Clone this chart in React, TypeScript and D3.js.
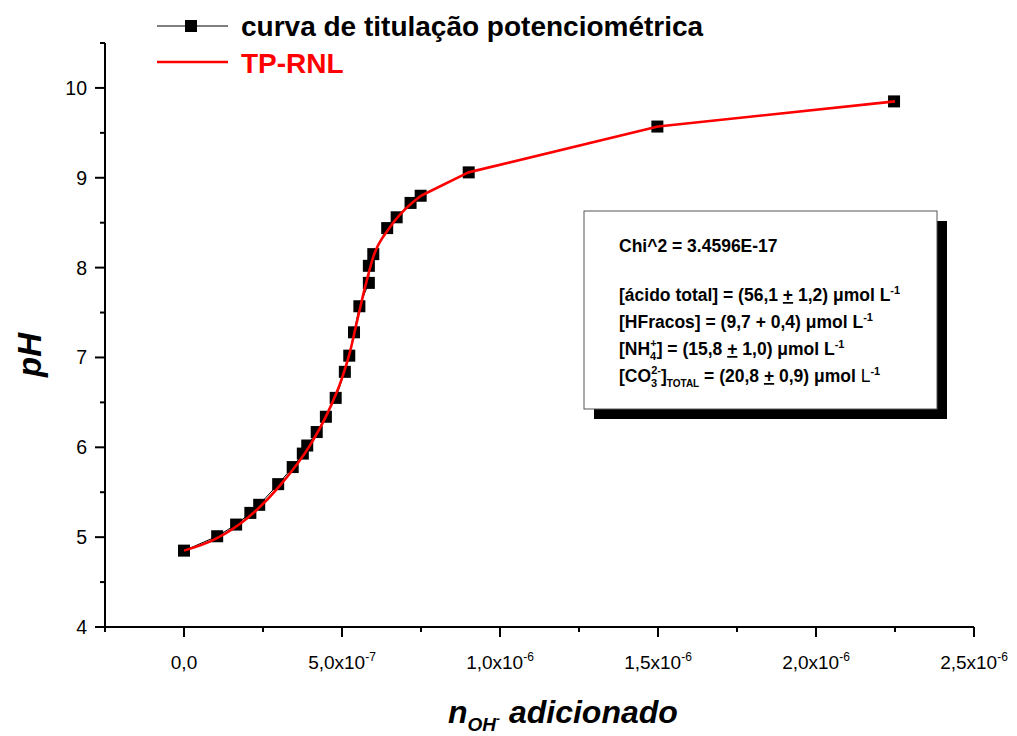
import React from "react";
import * as d3 from "d3";

// Experimental titration points (n OH- added, pH)
const nOH = [0, 1.05e-7, 1.65e-7, 2.1e-7, 2.38e-7, 2.98e-7, 3.44e-7, 3.76e-7, 3.9e-7, 4.2e-7, 4.49e-7, 4.8e-7, 5.09e-7, 5.23e-7, 5.38e-7, 5.55e-7, 5.85e-7, 5.85e-7, 5.99e-7, 6.43e-7, 6.73e-7, 7.17e-7, 7.49e-7, 9.01e-7, 1.498e-6, 2.247e-6];
const pHvals = [4.85, 5.01, 5.14, 5.27, 5.36, 5.59, 5.78, 5.93, 6.02, 6.17, 6.34, 6.55, 6.84, 7.02, 7.28, 7.57, 7.83, 8.02, 8.15, 8.44, 8.56, 8.72, 8.8, 9.06, 9.57, 9.85];

// TP-RNL fitted curve (smooth part, then straight segments at high nOH)
const fitX = [0, 1.0e-7, 2.0e-7, 3.0e-7, 4.0e-7, 4.5e-7, 5.0e-7, 5.25e-7, 5.5e-7, 5.75e-7, 6.0e-7, 6.5e-7, 7.0e-7, 7.5e-7];
const fitPH = [4.85, 4.98, 5.21, 5.56, 6.03, 6.35, 6.77, 7.06, 7.44, 7.81, 8.13, 8.44, 8.65, 8.8];
const fitTailX = [7.5e-7, 9.0e-7, 1.5e-6, 2.25e-6];
const fitTailPH = [8.8, 9.06, 9.57, 9.85];

const xMajorTicks = [0, 5e-7, 1e-6, 1.5e-6, 2e-6, 2.5e-6];
const xTickMantissa = ["0,0", "5,0", "1,0", "1,5", "2,0", "2,5"];
const xTickExp = ["", "-7", "-6", "-6", "-6", "-6"];
const xMinorTicks = [-2.5e-7, 2.5e-7, 7.5e-7, 1.25e-6, 1.75e-6, 2.25e-6];
const yMajorTicks = [4, 5, 6, 7, 8, 9, 10];
const yMinorTicks = [4.5, 5.5, 6.5, 7.5, 8.5, 9.5, 10.5];

const legendLabels = ["curva de titulação potenciométrica", "TP-RNL"];

const FONT = "'Liberation Sans', Arial, Helvetica, sans-serif";

export default function App() {
  const x = d3.scaleLinear().domain([-2.5e-7, 2.5e-6]).range([105, 974]);
  const y = d3.scaleLinear().domain([4, 10.5]).range([627, 43]);

  const dataLine = d3
    .line<number>()
    .x((_, i) => x(nOH[i]))
    .y((_, i) => y(pHvals[i]))(nOH) as string;

  const fitLine = d3
    .line<number>()
    .x((_, i) => x(fitX[i]))
    .y((_, i) => y(fitPH[i]))
    .curve(d3.curveMonotoneX)(fitX) as string;

  const fitTail = d3
    .line<number>()
    .x((_, i) => x(fitTailX[i]))
    .y((_, i) => y(fitTailPH[i]))(fitTailX) as string;

  const axisX = x(-2.5e-7);
  const axisY = y(4);
  const ms = 12;

  return (
    <div style={{ position: "absolute", left: 0, top: 0 }}>
      <svg width={1017} height={736} style={{ display: "block", background: "#fff" }} fontFamily={FONT}>
        <rect x={0} y={0} width={1017} height={736} fill="#fff" />

        {/* Axes */}
        <line x1={axisX} x2={axisX} y1={y(10.5)} y2={axisY + 1} stroke="#000" strokeWidth={2} />
        <line x1={axisX - 1} x2={x(2.5e-6)} y1={axisY} y2={axisY} stroke="#000" strokeWidth={2} />

        {yMajorTicks.map((v) => (
          <g key={"ym" + v}>
            <line x1={axisX - 10} x2={axisX} y1={y(v)} y2={y(v)} stroke="#000" strokeWidth={2} />
            <text x={axisX - 18} y={y(v) + 7} textAnchor="end" fontSize={19.5} fill="#000">
              {v}
            </text>
          </g>
        ))}
        {yMinorTicks.map((v) => (
          <line key={"yn" + v} x1={axisX - 5} x2={axisX} y1={y(v)} y2={y(v)} stroke="#000" strokeWidth={2} />
        ))}

        {xMajorTicks.map((v, i) => (
          <g key={"xm" + v}>
            <line x1={x(v)} x2={x(v)} y1={axisY} y2={axisY + 10} stroke="#000" strokeWidth={2} />
            <text x={x(v)} y={669} textAnchor="middle" fontSize={19} fill="#000">
              {xTickMantissa[i]}
              {xTickExp[i] && (
                <>
                  x10
                  <tspan dy={-8} fontSize={12}>
                    {xTickExp[i]}
                  </tspan>
                </>
              )}
            </text>
          </g>
        ))}
        {xMinorTicks.map((v) => (
          <line key={"xn" + v} x1={x(v)} x2={x(v)} y1={axisY} y2={axisY + 5} stroke="#000" strokeWidth={2} />
        ))}

        {/* Axis titles */}
        <text
          transform={`translate(41,355) rotate(-90)`}
          textAnchor="middle"
          fontSize={33}
          fontWeight="bold"
          fontStyle="italic"
          fill="#000"
        >
          pH
        </text>
        <text x={448} y={723} fontSize={32} fontWeight="bold" fontStyle="italic" fill="#000">
          n
          <tspan dy={8} fontSize={19}>
            OH
          </tspan>
          <tspan dy={-8} fontSize={12}>
            -
          </tspan>
          <tspan dy={0} fontSize={32}>
            {" adicionado"}
          </tspan>
        </text>

        {/* Data series: black line + square markers */}
        <path d={dataLine} fill="none" stroke="#000" strokeWidth={1} />
        {nOH.map((v, i) => (
          <rect key={"p" + i} x={x(v) - ms / 2} y={y(pHvals[i]) - ms / 2} width={ms} height={ms} fill="#000" />
        ))}

        {/* Fitted curve */}
        <path d={fitLine} fill="none" stroke="#ff0000" strokeWidth={2.6} strokeLinejoin="round" />
        <path d={fitTail} fill="none" stroke="#ff0000" strokeWidth={2.6} strokeLinejoin="round" />

        {/* Legend */}
        <line x1={157} x2={228} y1={26} y2={26} stroke="#000" strokeWidth={1.2} />
        <rect x={191 - ms / 2} y={26 - ms / 2} width={ms} height={ms} fill="#000" />
        <text x={241} y={36} fontSize={28} fontWeight="bold" fill="#000">
          {legendLabels[0]}
        </text>
        <line x1={157} x2={228} y1={62} y2={62} stroke="#ff0000" strokeWidth={2.5} />
        <text x={241} y={73} fontSize={28} fontWeight="bold" fill="#ff0000">
          {legendLabels[1]}
        </text>

        {/* Result box with shadow */}
        <rect x={594} y={221} width={353} height={198} fill="#000" />
        <rect x={584} y={211} width={353} height={198} fill="#fff" stroke="#555" strokeWidth={1} />
        <g fontSize={17.5} fontWeight="bold" fill="#000">
          <text x={619} y={252}>Chi^2 = 3.4596E-17</text>
          <text x={619} y={301}>
            [ácido total] = (56,1 <tspan textDecoration="underline">+</tspan> 1,2) μmol L
            <tspan dy={-7} fontSize={11}>
              -1
            </tspan>
          </text>
          <text x={619} y={328}>
            [HFracos] = (9,7 + 0,4) μmol L
            <tspan dy={-7} fontSize={11}>
              -1
            </tspan>
          </text>
          <text x={619} y={355}>
            [NH
            <tspan dy={5} fontSize={11}>
              4
            </tspan>
            <tspan dx={-6} dy={-13} fontSize={11}>
              +
            </tspan>
            <tspan dy={8} fontSize={17.5}>
              ] = (15,8 <tspan textDecoration="underline">+</tspan> 1,0) μmol L
            </tspan>
            <tspan dy={-7} fontSize={11}>
              -1
            </tspan>
          </text>
          <text x={619} y={382}>
            [CO
            <tspan dy={5} fontSize={11}>
              3
            </tspan>
            <tspan dx={-6} dy={-13} fontSize={11}>
              2-
            </tspan>
            <tspan dy={8} fontSize={17.5}>
              ]
            </tspan>
            <tspan dy={5} fontSize={10}>
              TOTAL
            </tspan>
            <tspan dy={-5} fontSize={17.5}>
              {" = (20,8 "}
              <tspan textDecoration="underline">+</tspan>
              {" 0,9) μmol "}
              <tspan fontWeight="normal">L</tspan>
            </tspan>
            <tspan dy={-7} fontSize={11}>
              -1
            </tspan>
          </text>
        </g>
      </svg>
    </div>
  );
}
